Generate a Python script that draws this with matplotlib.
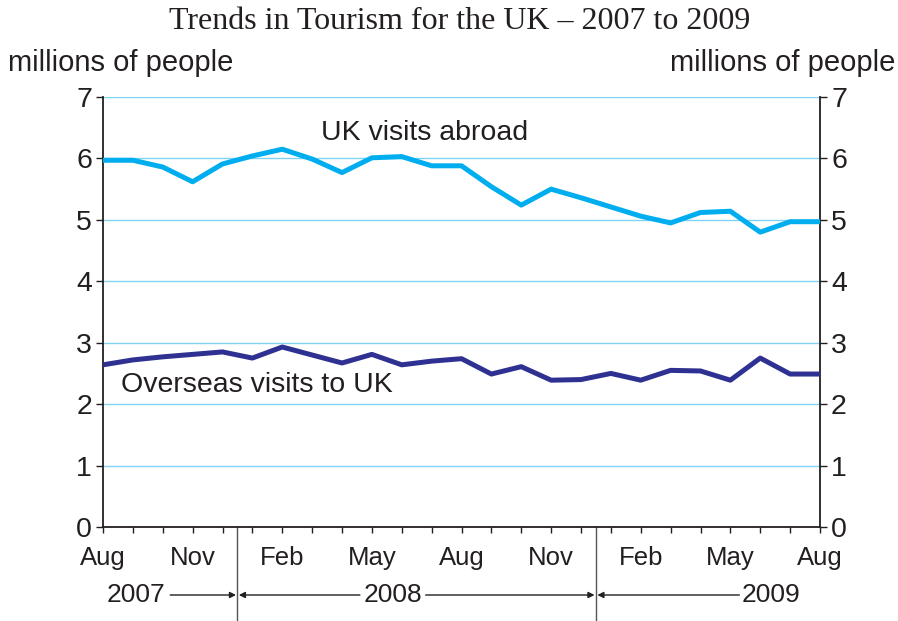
import matplotlib
matplotlib.use("Agg")
import matplotlib.pyplot as plt
import matplotlib.transforms as mtransforms
from matplotlib.ticker import MultipleLocator

# --- données (millions de personnes, mensuel Aug 2007 -> Aug 2009) ---
months = ["Aug", "Sep", "Oct", "Nov", "Dec", "Jan", "Feb", "Mar", "Apr", "May", "Jun", "Jul",
          "Aug", "Sep", "Oct", "Nov", "Dec", "Jan", "Feb", "Mar", "Apr", "May", "Jun", "Jul", "Aug"]
uk_abroad = [5.97, 5.97, 5.86, 5.62, 5.91, 6.04, 6.15, 5.99, 5.77, 6.01, 6.03, 5.88,
             5.88, 5.54, 5.24, 5.50, 5.36, 5.21, 5.06, 4.95, 5.12, 5.14, 4.80, 4.97, 4.97]
overseas_uk = [2.64, 2.72, 2.77, 2.81, 2.85, 2.75, 2.93, 2.80, 2.67, 2.81, 2.64, 2.70,
               2.74, 2.49, 2.61, 2.39, 2.40, 2.50, 2.39, 2.55, 2.54, 2.39, 2.75, 2.49, 2.49]
years = ["2007", "2008", "2009"]

CYAN = "#00AEEF"
NAVY = "#2E3192"
GRID = "#7FD3F3"
INK = "#231F20"

plt.rcParams["font.family"] = ["Liberation Sans", "DejaVu Sans"]

fig = plt.figure(figsize=(8.98, 6.21), dpi=100)
ax = fig.add_axes([103 / 898, 1 - 527 / 621, (820 - 103) / 898, (527 - 97) / 621])

x = list(range(len(months)))
ax.plot(x, uk_abroad, color=CYAN, lw=3.6, solid_joinstyle="round", solid_capstyle="butt", zorder=3)
ax.plot(x, overseas_uk, color=NAVY, lw=3.6, solid_joinstyle="round", solid_capstyle="butt", zorder=3)

ax.set_xlim(0, len(months) - 1)
ax.set_ylim(0, 7)
ax.yaxis.set_major_locator(MultipleLocator(1))
for v in range(1, 8):
    ax.axhline(v, color=GRID, lw=1.0, zorder=1)

ax.set_xticks(x[::3])
ax.set_xticklabels(months[::3])
ax.xaxis.set_minor_locator(MultipleLocator(1))
ax.tick_params(axis="x", which="both", direction="out", length=4.5, width=1, color=INK,
               labelsize=18.5, labelcolor=INK, pad=9.5)
ax.tick_params(axis="y", which="both", direction="out", length=5, width=1, color=INK,
               labelsize=20.5, labelcolor=INK, left=True, right=True, labelleft=True, labelright=True, pad=3)

for s in ["left", "right", "bottom"]:
    ax.spines[s].set_color(INK)
    ax.spines[s].set_linewidth(1.3)
ax.spines["top"].set_visible(False)

# étiquettes des séries
ax.text(7.3, 6.41, "UK visits abroad", fontsize=20.5, color=INK, va="center", ha="left")
ax.text(0.6, 2.31, "Overseas visits to UK", fontsize=20.5, color=INK, va="center", ha="left")

# titre et unités
fig.text(0.512, 0.965, "Trends in Tourism for the UK \u2013 2007 to 2009", family="Liberation Serif",
         fontsize=23, color=INK, ha="center", va="center")
fig.text(8 / 898, 1 - 63 / 621, "millions of people", fontsize=21, color=INK, ha="left", va="center")
fig.text(895 / 898, 1 - 63 / 621, "millions of people", fontsize=21, color=INK, ha="right", va="center")

# séparateurs d'années et flèches
trans = mtransforms.blended_transform_factory(ax.transData, ax.transAxes)
yrow = (527 - 595) / 430
bottom = -(621 - 527) / 430
for xs in (4.5, 16.5):
    ax.plot([xs, xs], [0, bottom], color="#555555", lw=1, transform=trans, clip_on=False)

ax.text(1.1, yrow, years[0], transform=trans, fontsize=19, color=INK, ha="center", va="center")
ax.text(9.7, yrow, years[1], transform=trans, fontsize=19, color=INK, ha="center", va="center")
ax.text(22.35, yrow, years[2], transform=trans, fontsize=19, color=INK, ha="center", va="center")

arrows = [(2.25, 4.5), (8.6, 4.5), (10.8, 16.5), (21.3, 16.5)]
for x0, x1 in arrows:
    ax.annotate("", xy=(x1, yrow), xytext=(x0, yrow), xycoords=trans, textcoords=trans,
                arrowprops=dict(arrowstyle="-|>", color=INK, lw=1, mutation_scale=9,
                                shrinkA=0, shrinkB=1), annotation_clip=False)

fig.savefig("out.png", dpi=100)
